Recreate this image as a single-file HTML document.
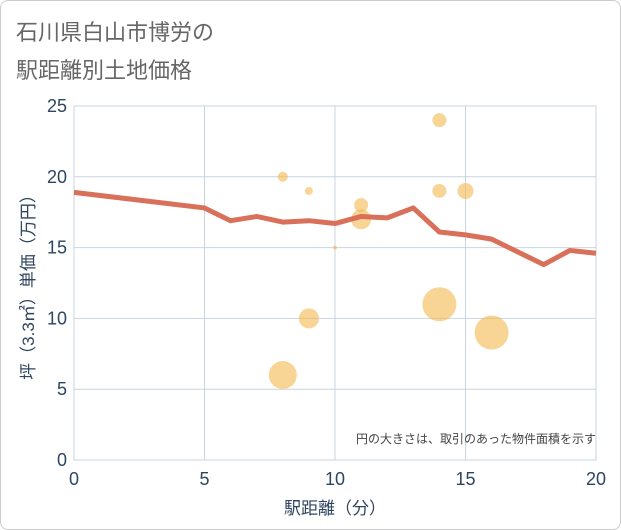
<!DOCTYPE html>
<html><head><meta charset="utf-8"><style>
body{margin:0;background:#fff;font-family:"Liberation Sans","Noto Sans CJK JP",sans-serif;}
#card{position:absolute;left:0;top:0;width:619px;height:528px;border:1px solid #ccc;border-radius:8px;background:#fff;}
</style></head><body>
<div id="card">
<svg id="svg" width="621" height="530" style="position:absolute;left:-1px;top:-1px">
<text x="16" y="40" font-size="22" fill="#666">石川県白山市博労の</text>
<text x="16" y="78" font-size="22" fill="#666">駅距離別土地価格</text>
<rect x="74" y="106" width="522" height="354" fill="#fff" stroke="#ccc"/>
<g id="grid"></g><g id="bubbles"></g><g id="line"></g><g id="axes"></g>
<text x="596" y="443" font-size="12" fill="#444" text-anchor="end">円の大きさは、取引のあった物件面積を示す</text>
<text x="335" y="514" font-size="17" fill="#2f4560" text-anchor="middle">駅距離（分）</text>
<text transform="translate(34,283) rotate(-90)" font-size="17" fill="#2f4560" text-anchor="middle">坪（3.3㎡）単価（万円）</text>
</svg></div>
<script>
const xTicks=[0,5,10,15,20];
const yTicks=[0,5,10,15,20,25];
const lineX=[0,5,6,7,8,9,10,11,12,13,14,15,16,17,18,19,20];
const lineY=[18.9,17.8,16.9,17.2,16.8,16.9,16.7,17.2,17.1,17.8,16.1,15.9,15.6,14.7,13.8,14.8,14.6];
const bubX=[8,9,11,11,10,14,14,15,14,16,9,8];
const bubY=[20,19,18,17,15,24,19,19,11,9,10,6];
const bubR=[5,4,7,10,2,7,7,8,17,17,10,14];
const NS="http://www.w3.org/2000/svg";
const sx=v=>74+v*522/20, sy=v=>460-v*354/25;
function mk(t,a,p){const e=document.createElementNS(NS,t);for(const k in a)e.setAttribute(k,a[k]);p.appendChild(e);return e;}
const grid=document.getElementById('grid'),axes=document.getElementById('axes');
xTicks.forEach(v=>{
 const l=mk('line',{x1:sx(v),x2:sx(v),y1:106,y2:460,stroke:'#c8d4e0'},grid);
 
 
 const t=mk('text',{x:sx(v),y:485,'font-size':18,fill:'#2f4560','text-anchor':'middle'},axes);t.textContent=v;
 
 
});
yTicks.forEach(v=>{
 const l=mk('line',{x1:74,x2:596,y1:sy(v),y2:sy(v),stroke:'#c8d4e0'},grid);
 
 
 const t=mk('text',{x:67,y:sy(v)+6,'font-size':18,fill:'#2f4560','text-anchor':'end'},axes);t.textContent=v;
 
 
});
const bg=document.getElementById('bubbles');
bubX.forEach((x,i)=>{
 const c=mk('circle',{cx:sx(x),cy:sy(bubY[i]),r:bubR[i],fill:'#f3b84f','fill-opacity':0.6},bg);
 
 
});
const p=mk('polyline',{points:lineX.map((x,i)=>sx(x)+','+sy(lineY[i])).join(' '),fill:'none',stroke:'#d9705a','stroke-width':5,'stroke-linejoin':'round'},document.getElementById('line'));


</script></body></html>
